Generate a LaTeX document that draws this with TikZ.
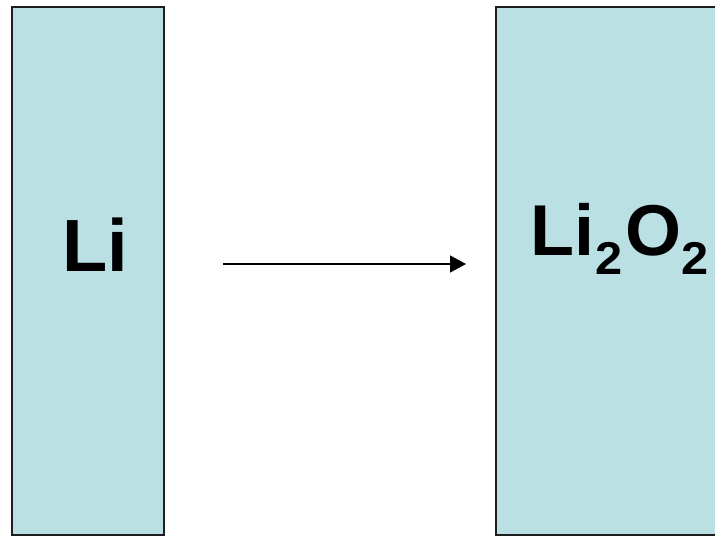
\documentclass[tikz,border=0pt]{standalone}
\usepackage{fontspec}
\setmainfont{Liberation Sans}
\usetikzlibrary{arrows.meta}
\definecolor{cellfill}{RGB}{186,224,227}
\definecolor{cellline}{RGB}{30,30,30}
\newcommand{\subtwo}{\raisebox{-19pt}{\fontsize{46}{48}\selectfont\scalebox{1.06}[1]{2}}}
\tikzset{
  cell/.style={draw=cellline, line width=2pt, fill=cellfill, rectangle, inner sep=0pt},
  lbl/.style={inner sep=0pt, font=\fontsize{74}{80}\selectfont\bfseries},
  flow/.style={line width=1.3pt, -{Triangle[length=16pt,width=17pt]}}
}
\begin{document}
\begin{tikzpicture}[x=1pt,y=-1pt]
\useasboundingbox (0,0) rectangle (715,536);
\clip (0,0) rectangle (715,536);
\node[cell, minimum width=152pt, minimum height=528pt] (left) at (88,271) {};
\node[cell, minimum width=240pt, minimum height=528pt] (right) at (616,271) {};
\node[lbl, anchor=base] (li) at (95,271) {Li};
\node[lbl, anchor=base west, font=\fontsize{72}{80}\selectfont\bfseries] (lio) at (530,255) {Li\kern1pt\subtwo\kern3pt O\kern0.5pt\subtwo};
\coordinate (a) at (223,264);
\coordinate (b) at (466,264);
\draw[flow] (a) -- (b);
\end{tikzpicture}
\end{document}
